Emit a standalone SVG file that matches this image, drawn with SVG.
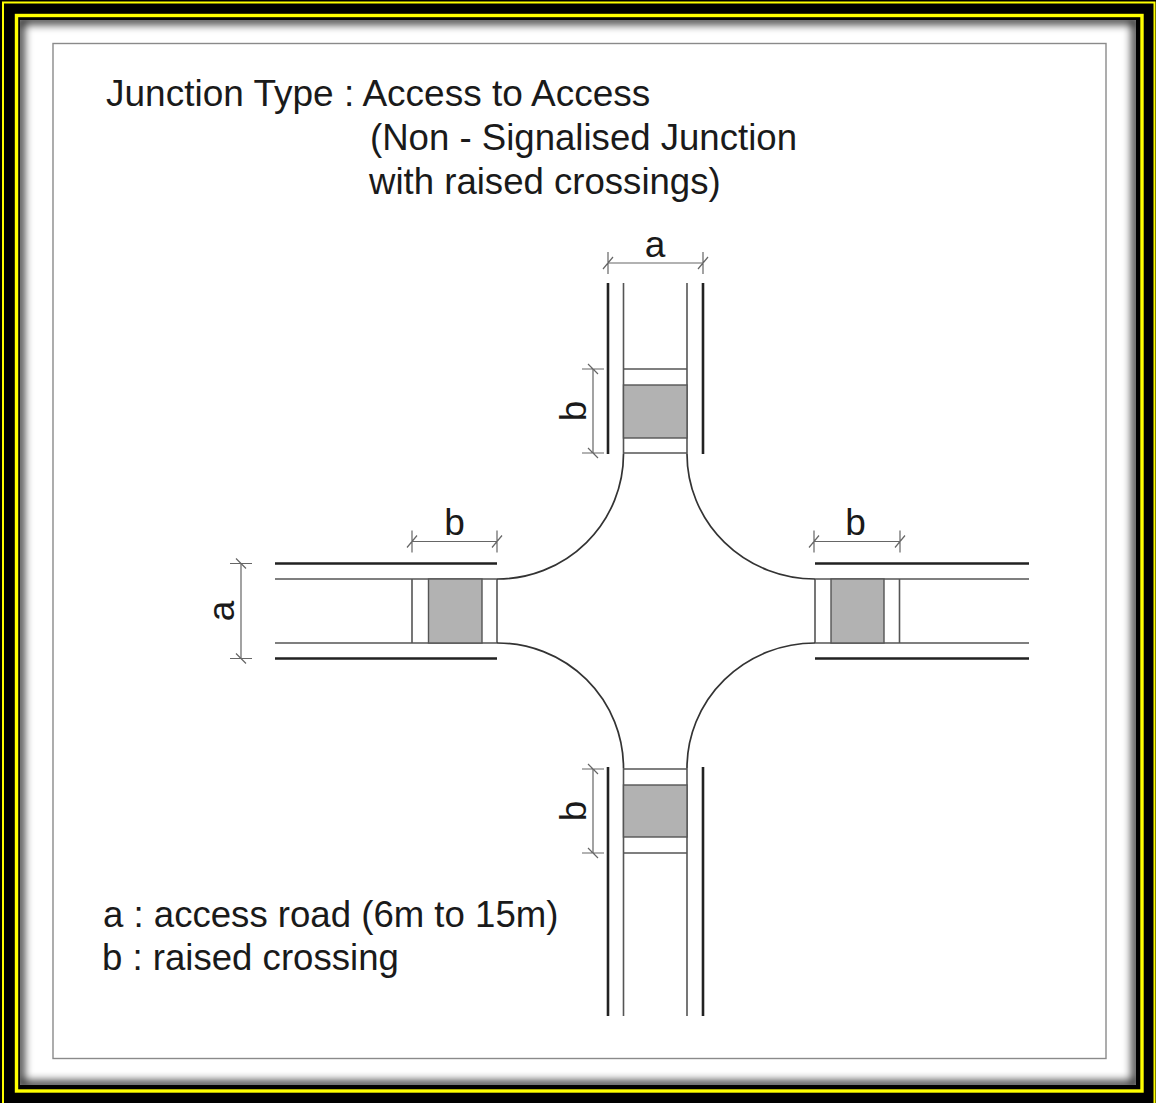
<svg xmlns="http://www.w3.org/2000/svg" width="1156" height="1103" viewBox="0 0 1156 1103">
<style>
.t{font-family:"Liberation Sans",Arial,sans-serif;font-size:37px;fill:#1a1a1a}
.l{font-family:"Liberation Sans",Arial,sans-serif;font-size:36.6px;fill:#1a1a1a}
.d{font-family:"Liberation Sans",Arial,sans-serif;font-size:37px;fill:#1a1a1a}
.kerb{fill:none;stroke:#222;stroke-width:2.6}
.edge{fill:none;stroke:#555;stroke-width:1.6}
.curve{fill:none;stroke:#333;stroke-width:1.7}
.fill{fill:#b2b2b2;stroke:#555;stroke-width:1.4}
.dim{fill:none;stroke:#666;stroke-width:1.2}
</style>
<defs>
<filter id="blur" x="-5%" y="-5%" width="110%" height="110%"><feGaussianBlur stdDeviation="5"/></filter>
<clipPath id="inner"><rect x="20" y="20" width="1116" height="1065"/></clipPath>
<path id="tk" d="M-11 0H11M-5 -5L5 5" class="dim"/>
<path id="tkv" d="M0 -11V11M-5 6L5 -6" class="dim"/>
</defs>
<g id="frame">
<rect width="1156" height="1103" fill="#000"/>
<rect x="3" y="2.5" width="1151.5" height="1110" fill="none" stroke="#ff0" stroke-width="2"/>
<rect x="16.5" y="15.5" width="1125.5" height="1075.5" fill="#000" stroke="#ff0" stroke-width="3.4"/>
<rect x="20" y="20" width="1116" height="1065" fill="#fff"/>
<g clip-path="url(#inner)">
<rect x="20" y="20" width="1116" height="1065" fill="none" stroke="#000" stroke-width="7" filter="url(#blur)"/>
</g>
<rect x="53" y="43.5" width="1053" height="1015" fill="#fff" stroke="#8a8a8a" stroke-width="1.4"/>
</g>
<g id="title">
<text class="t" x="106" y="106">Junction Type : Access to Access</text>
<text class="l" x="370" y="150">(Non - Signalised Junction</text>
<text class="l" x="369" y="194">with raised crossings)</text>
</g>
<g id="legend">
<text class="l" x="103" y="927">a : access road (6m to 15m)</text>
<text class="l" x="102" y="970">b : raised crossing</text>
</g>
<g id="road-north">
<path class="kerb" d="M608 283V454M703 283V454"/>
<path class="edge" d="M623.5 283V454M687 283V454M623.5 369H687M623.5 453H687"/>
<rect class="fill" x="623.5" y="385" width="63.5" height="53"/>
</g>
<g id="road-west">
<path class="kerb" d="M275 563.5H497M275 658.5H497"/>
<path class="edge" d="M275 579H497M275 643H497M412 579V643M497 579V643"/>
<rect class="fill" x="428.5" y="579" width="53.5" height="64"/>
</g>
<g id="road-east">
<path class="kerb" d="M815 563.5H1029M815 658.5H1029"/>
<path class="edge" d="M815 579H1029M815 643H1029M815 579V643M899.5 579V643"/>
<rect class="fill" x="831" y="579" width="53" height="64"/>
</g>
<g id="road-south">
<path class="kerb" d="M608 767V1016M703 767V1016"/>
<path class="edge" d="M623.5 768V1016M687 768V1016M623.5 769H687M623.5 853H687"/>
<rect class="fill" x="623.5" y="785" width="63.5" height="52"/>
</g>
<g id="junction">
<path class="curve" d="M623.5 454A126 125 0 0 1 497 579M687 454A128 125 0 0 0 815 579M497 643A126 125 0 0 1 623.5 768M815 643A128 125 0 0 0 687 768"/>
</g>
<g id="connectors">
<path class="dim" d="M608 263H703M593 369V453M241 563.5V658.5M412 541.5H497M814 541.5H900M593 769V853"/>
<use href="#tkv" x="608" y="263"/><use href="#tkv" x="703" y="263"/>
<use href="#tk" x="593" y="369"/><use href="#tk" x="593" y="453"/>
<use href="#tk" x="241" y="563.5"/><use href="#tk" x="241" y="658.5"/>
<use href="#tkv" x="412" y="541.5"/><use href="#tkv" x="497" y="541.5"/>
<use href="#tkv" x="814" y="541.5"/><use href="#tkv" x="900" y="541.5"/>
<use href="#tk" x="593" y="769"/><use href="#tk" x="593" y="853"/>
</g>
<g id="dimension-labels">
<text class="d" x="655" y="257" text-anchor="middle">a</text>
<text class="d" x="454.5" y="535" text-anchor="middle">b</text>
<text class="d" x="855.5" y="535" text-anchor="middle">b</text>
<text class="d" transform="translate(586 411) rotate(-90)" text-anchor="middle">b</text>
<text class="d" transform="translate(586 811) rotate(-90)" text-anchor="middle">b</text>
<text class="d" transform="translate(234 611) rotate(-90)" text-anchor="middle">a</text>
</g>
</svg>
